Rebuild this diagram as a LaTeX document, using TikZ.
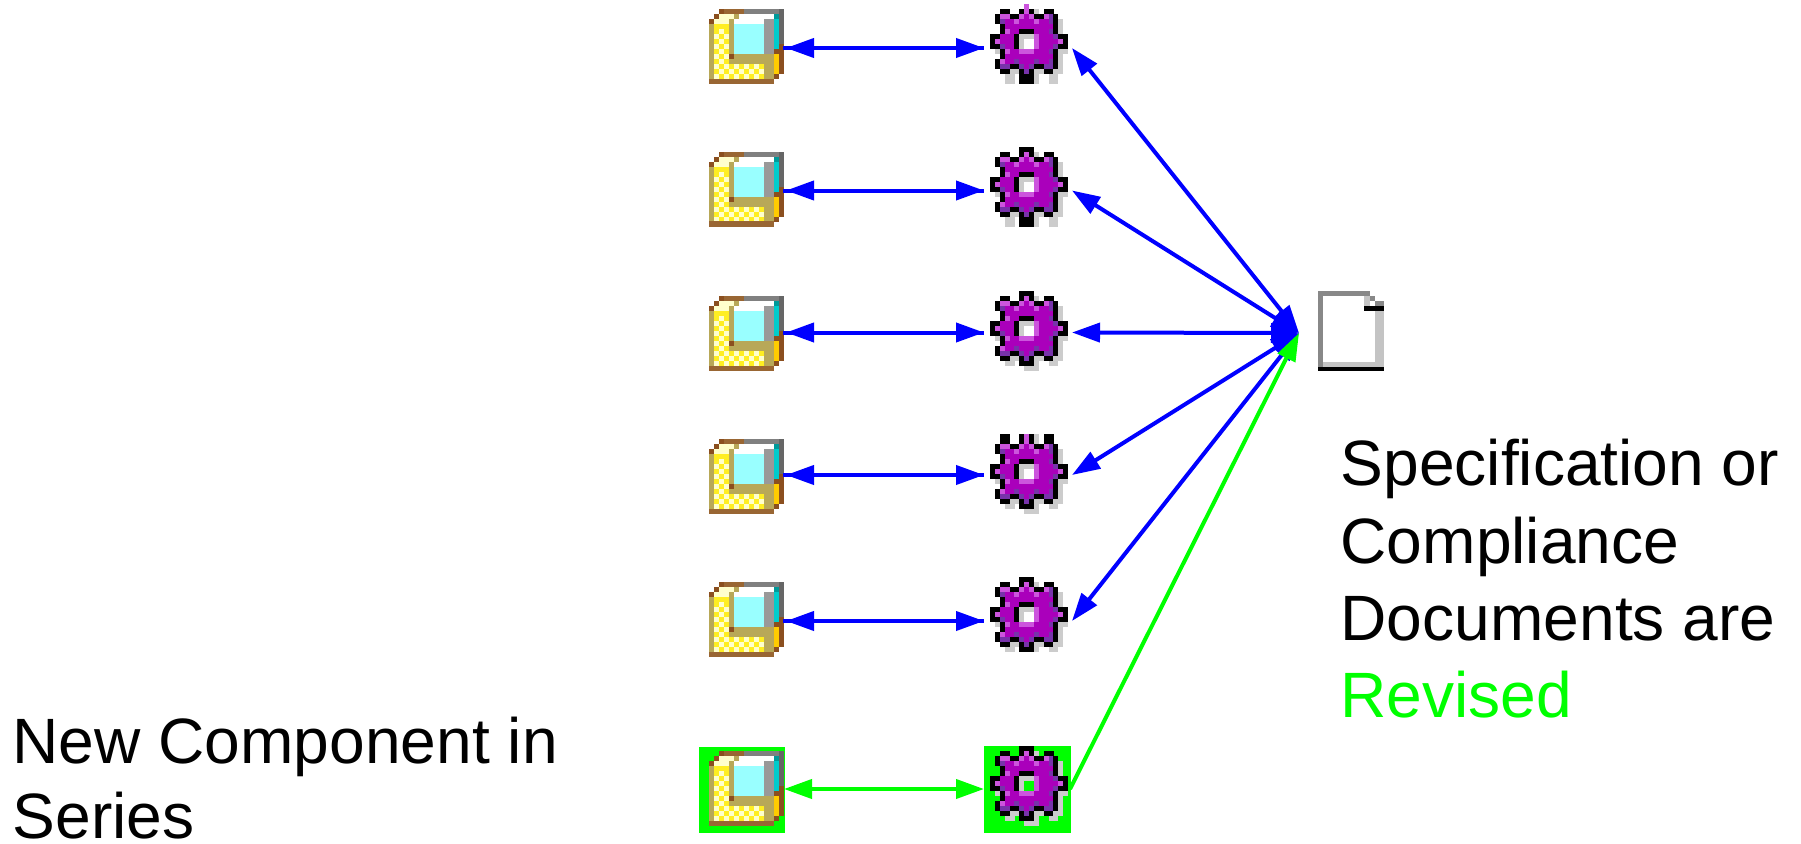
\documentclass[tikz,border=0pt]{standalone}
\usepackage{fontspec}
\setmainfont{Liberation Sans}
\usetikzlibrary{arrows.meta}
\definecolor{pxK}{HTML}{000000}
\definecolor{pxL}{HTML}{CC55DD}
\definecolor{pxP}{HTML}{AA00BB}
\definecolor{pxD}{HTML}{7733AA}
\definecolor{pxG}{HTML}{CCCCCC}
\definecolor{pxN}{HTML}{8B4F1F}
\definecolor{pxB}{HTML}{996633}
\definecolor{pxA}{HTML}{808080}
\definecolor{pxX}{HTML}{666666}
\definecolor{pxY}{HTML}{FFFFCC}
\definecolor{pxH}{HTML}{B8A858}
\definecolor{pxW}{HTML}{FFFFFF}
\definecolor{pxT}{HTML}{009999}
\definecolor{pxC}{HTML}{99FFFF}
\definecolor{pxR}{HTML}{999999}
\definecolor{pxQ}{HTML}{00CCCC}
\definecolor{pxF}{HTML}{FFEE22}
\definecolor{pxO}{HTML}{FFCC00}
\definecolor{bluearrow}{HTML}{0000FF}
\definecolor{greenarrow}{HTML}{00FF00}
\definecolor{docgray}{HTML}{888888}
\definecolor{doclight}{HTML}{C4C4C4}
\newcount\pxc
\newcount\pxr
\def\pxstep{5000}
\def\pxcell#1{\if#1.\else\fill[px#1] (\the\numexpr\pxc*\pxstep/10\relax e-2,\the\numexpr\pxr*5\relax) rectangle ++(\pxwide,5.2);\fi}
\def\pxwide{5.2}
\def\pxloop#1{\ifx#1\relax\else\pxcell{#1}\advance\pxc by 1 \expandafter\pxloop\fi}
\def\pxrow#1{\pxc=0 \pxloop#1\relax\advance\pxr by 1 }
\def\gearicon#1#2#3#4#5{\begin{scope}[shift={(#1,#2)}]\pxr=0 \def\pxstep{4875}\def\pxwide{5.05}
\pxrow{#3}
\pxrow{..KK..KLKG.KK...}
\pxrow{.KLLKKLPLKKLDK..}
\pxrow{.KDPPLPPPLPPDKG.}
\pxrow{..KPPPPPPPPPPKG.}
\pxrow{..KLPPKKKPPPDKG.}
\pxrow{KKPPPKGGGLPPPDKK}
\pxrow{KLPPPKG..LPPPPLK}
\pxrow{KKDPPKG..LPPPDKK}
\pxrow{.GKLPPLLLPPPDKGG}
\pxrow{..KPPPPPPPPPPKG.}
\pxrow{.KLPPDPPPDPPDKG.}
\pxrow{.KDDKKDPDKKDDKG.}
\pxrow{..KKGGKDKGGKKGG.}
\pxrow{#4}
\pxrow{#5}
\end{scope}}
\def\boxicon#1#2{\begin{scope}[shift={(#1,#2)}]\pxr=0
\pxrow{..NBBBBAAAAAAAX}
\pxrow{.NYYYHWWWWWWWTX}
\pxrow{NYYYHWWWWWWRRQX}
\pxrow{HFFFHCCCCCCRRQX}
\pxrow{HFYFHCCCCCCRRQX}
\pxrow{HYFYHCCCCCCRRQX}
\pxrow{HFYFHCCCCCCRRQX}
\pxrow{HYFYHCCCCCCRRQN}
\pxrow{HFYFHCCCCCCRRNN}
\pxrow{HYFYNHHHHHHHHON}
\pxrow{HFYFHHHHHHHHHON}
\pxrow{HYFYFYFYFYFHHON}
\pxrow{HFYFYFYFYFYHHON}
\pxrow{HYFYFYFYFYFHHN.}
\pxrow{BBBBBBBBBBBBB..}
\end{scope}}
\tikzset{
  iconnode/.style={rectangle,inner sep=0pt,outer sep=0pt},
  boxnode/.style={iconnode,minimum width=76pt,minimum height=76pt},
  gearnode/.style={iconnode,minimum width=88pt,minimum height=80pt},
  shaft/.style={line width=4pt},
  heads/.style={line width=4pt,{Triangle[length=28pt,width=19pt]}-{Triangle[length=28pt,width=19pt]}},
  onehead/.style={line width=4pt,-{Triangle[length=28pt,width=19pt]}},
  label/.style={anchor=base west,inner sep=0pt,font=\fontsize{64.1}{78}\selectfont}
}
\begin{document}
\begin{tikzpicture}[x=1pt,y=-1pt]
\useasboundingbox (0,0) rectangle (1801,843);
% green highlights
\fill[greenarrow] (699,747) rectangle (785,833);
\fill[greenarrow] (984,746) rectangle (1071,833);
% icons
\boxicon{709}{9}
\boxicon{709}{152}
\fill[pxB] (709,221) rectangle ++(65,5);
\boxicon{709}{296}
\boxicon{709}{439}
\boxicon{709}{582}
\boxicon{709}{751}
\gearicon{990}{4}{.......L........}{...GG.KKKG..GG..}{...GG.KKKG..GG..}
\gearicon{990}{147}{......KKK.......}{...GG.KKKG..GG..}{...GG.KKKG..GG..}
\gearicon{990}{291}{......KKK.......}{...GG.KKKG..GG..}{.......GGG......}
\gearicon{990}{434}{..KK..KLKG.KK...}{...GG.KKKG..GG..}{.......GGG......}
\gearicon{990}{577}{......KKK.......}{...GG.KKKG..GG..}{................}
\gearicon{990}{746}{......KKK.......}{...GG.KKKG..GG..}{.......GGG......}
% nodes
\node[boxnode] (b1) at (745,48) {};
\node[boxnode] (b2) at (745,190.5) {};
\node[boxnode] (b3) at (745,332.5) {};
\node[boxnode] (b4) at (745,475) {};
\node[boxnode] (b5) at (745,621) {};
\node[boxnode] (b6) at (746,789) {};
\node[gearnode] (g1) at (1028,48) {};
\node[gearnode] (g2) at (1028,190.5) {};
\node[gearnode] (g3) at (1028,332.5) {};
\node[gearnode] (g4) at (1028,475) {};
\node[gearnode] (g5) at (1028,621) {};
\node[gearnode,minimum width=86pt] (g6) at (1027,789) {};
\coordinate (hub) at (1299,333);
% document icon
\node[iconnode,minimum width=66pt,minimum height=80pt] (doc) at (1351,331) {};
\fill[docgray] (1318,291) rectangle (1370,296);
\fill[docgray] (1318,291) rectangle (1323,367);
\fill[doclight] (1323,362) rectangle (1384,367);
\fill[doclight] (1375,311) rectangle (1384,362);
\fill[black] (1318,367) rectangle (1384,371);
\fill[black] (1364,306) rectangle (1384,311);
\fill[docgray] (1370,296) rectangle (1375,301);
\fill[doclight] (1364,296) rectangle (1370,306);
\fill[docgray] (1375,301) rectangle (1384,306);
% horizontal connectors
\foreach \n in {1,...,5}{
  \draw[shaft,bluearrow] (b\n.east) -- (g\n.west);
  \draw[heads,bluearrow,shorten <=3pt] (b\n.east) -- (g\n.west);
}
\draw[heads,greenarrow] (b6.east) -- (g6.west);
% fan
\foreach \n in {1,...,5}{
  \draw[heads,bluearrow] (g\n.east) -- (hub);
}
\draw[onehead,greenarrow] (g6.east) -- (hub);
% text
\node[label] (t1) at (12.5,763) {New Component in};
\node[label] (t2) at (12.5,838.5) {Series};
\node[label] (t3) at (1340.5,485) {Specification or};
\node[label] (t4) at (1340.5,563) {Compliance};
\node[label] (t5) at (1340.5,640) {Documents are};
\node[label,text=greenarrow] (t6) at (1340.5,717) {Revised};
\end{tikzpicture}
\end{document}
